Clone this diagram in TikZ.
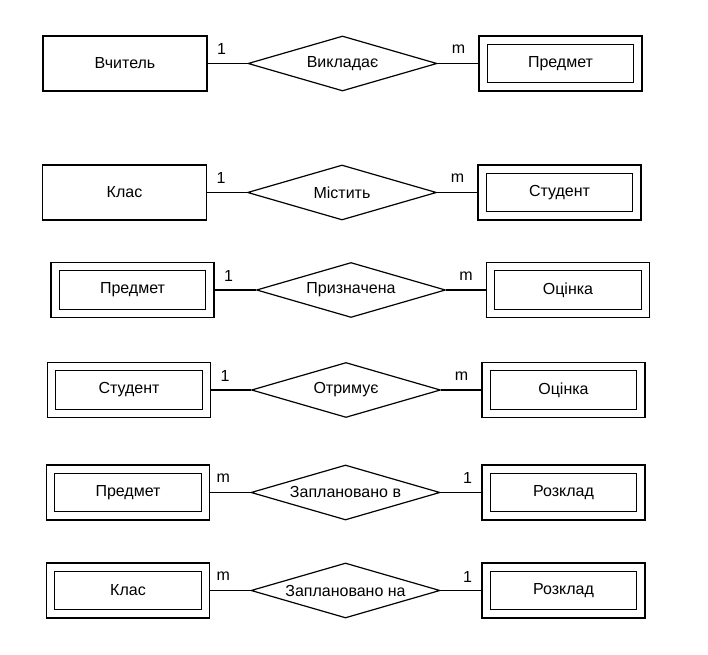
\documentclass[tikz,border=0pt]{standalone}
\usepackage{fontspec}
\setmainfont{Liberation Sans}
\usetikzlibrary{shapes, shapes.geometric, positioning}

\begin{document}
\begin{tikzpicture}[
  x=0.75pt, y=-0.75pt,
  line width=0.9pt,
  font=\fontsize{12}{14}\selectfont,
  entity/.style={draw, rectangle, minimum width=123pt, minimum height=41.25pt, inner sep=0pt},
  weak/.style={draw, rectangle, double, double distance=5.25pt, minimum width=116pt, minimum height=35pt, inner sep=0pt, outer sep=3.5pt},
  rel/.style={draw, diamond, aspect=3.44, minimum width=141.75pt, minimum height=41.25pt, inner sep=0pt},
  card/.style={inner sep=0pt}]

  \useasboundingbox (0,0) rectangle (708,655);

  \node[entity](vchytel) at (125,63.5){Вчитель};
  \node[rel](vykladaie) at (342.5,63.5){Викладає};
  \node[weak](predmet1) at (560.5,63.5){Предмет};

  \node[entity](klas1) at (124.5,192.5){Клас};
  \node[rel](mistyt) at (342,192.5){Містить};
  \node[weak](student1) at (559.5,192.5){Студент};

  \node[weak](predmet2) at (132.5,290){Предмет};
  \node[rel](pryznach) at (351,290){Призначена};
  \node[weak](otsinka1) at (568,290){Оцінка};

  \node[weak](student2) at (129,390){Студент};
  \node[rel](otrymuie) at (346,390){Отримує};
  \node[weak](otsinka2) at (563.5,390){Оцінка};

  \node[weak](predmet3) at (128,492.5){Предмет};
  \node[rel](zaplanv) at (345.5,492.5){Заплановано в};
  \node[weak](rozklad1) at (563.5,492.5){Розклад};

  \node[weak](klas2) at (128,590.5){Клас};
  \node[rel](zaplanna) at (345.5,590.5){Заплановано на};
  \node[weak](rozklad2) at (563.5,590.5){Розклад};

  \draw (vchytel) -- node[card, at start, xshift=10.5pt, yshift=10.5pt]{1} (vykladaie);
  \draw (vykladaie) -- node[card, at end, xshift=-15pt, yshift=10.5pt]{m} (predmet1);

  \draw (klas1) -- node[card, at start, xshift=10.5pt, yshift=10.5pt]{1} (mistyt);
  \draw (mistyt) -- node[card, at end, xshift=-15pt, yshift=10.5pt]{m} (student1);

  \draw (predmet2) -- node[card, at start, xshift=10.5pt, yshift=10.5pt]{1} (pryznach);
  \draw (pryznach) -- node[card, at end, xshift=-15pt, yshift=10.5pt]{m} (otsinka1);

  \draw (student2) -- node[card, at start, xshift=10.5pt, yshift=10.5pt]{1} (otrymuie);
  \draw (otrymuie) -- node[card, at end, xshift=-15pt, yshift=10.5pt]{m} (otsinka2);

  \draw (predmet3) -- node[card, at start, xshift=10pt, yshift=10.5pt]{m} (zaplanv);
  \draw (zaplanv) -- node[card, at end, xshift=-10.5pt, yshift=10.5pt]{1} (rozklad1);

  \draw (klas2) -- node[card, at start, xshift=10pt, yshift=10.5pt]{m} (zaplanna);
  \draw (zaplanna) -- node[card, at end, xshift=-10.5pt, yshift=10.5pt]{1} (rozklad2);
\end{tikzpicture}
\end{document}
